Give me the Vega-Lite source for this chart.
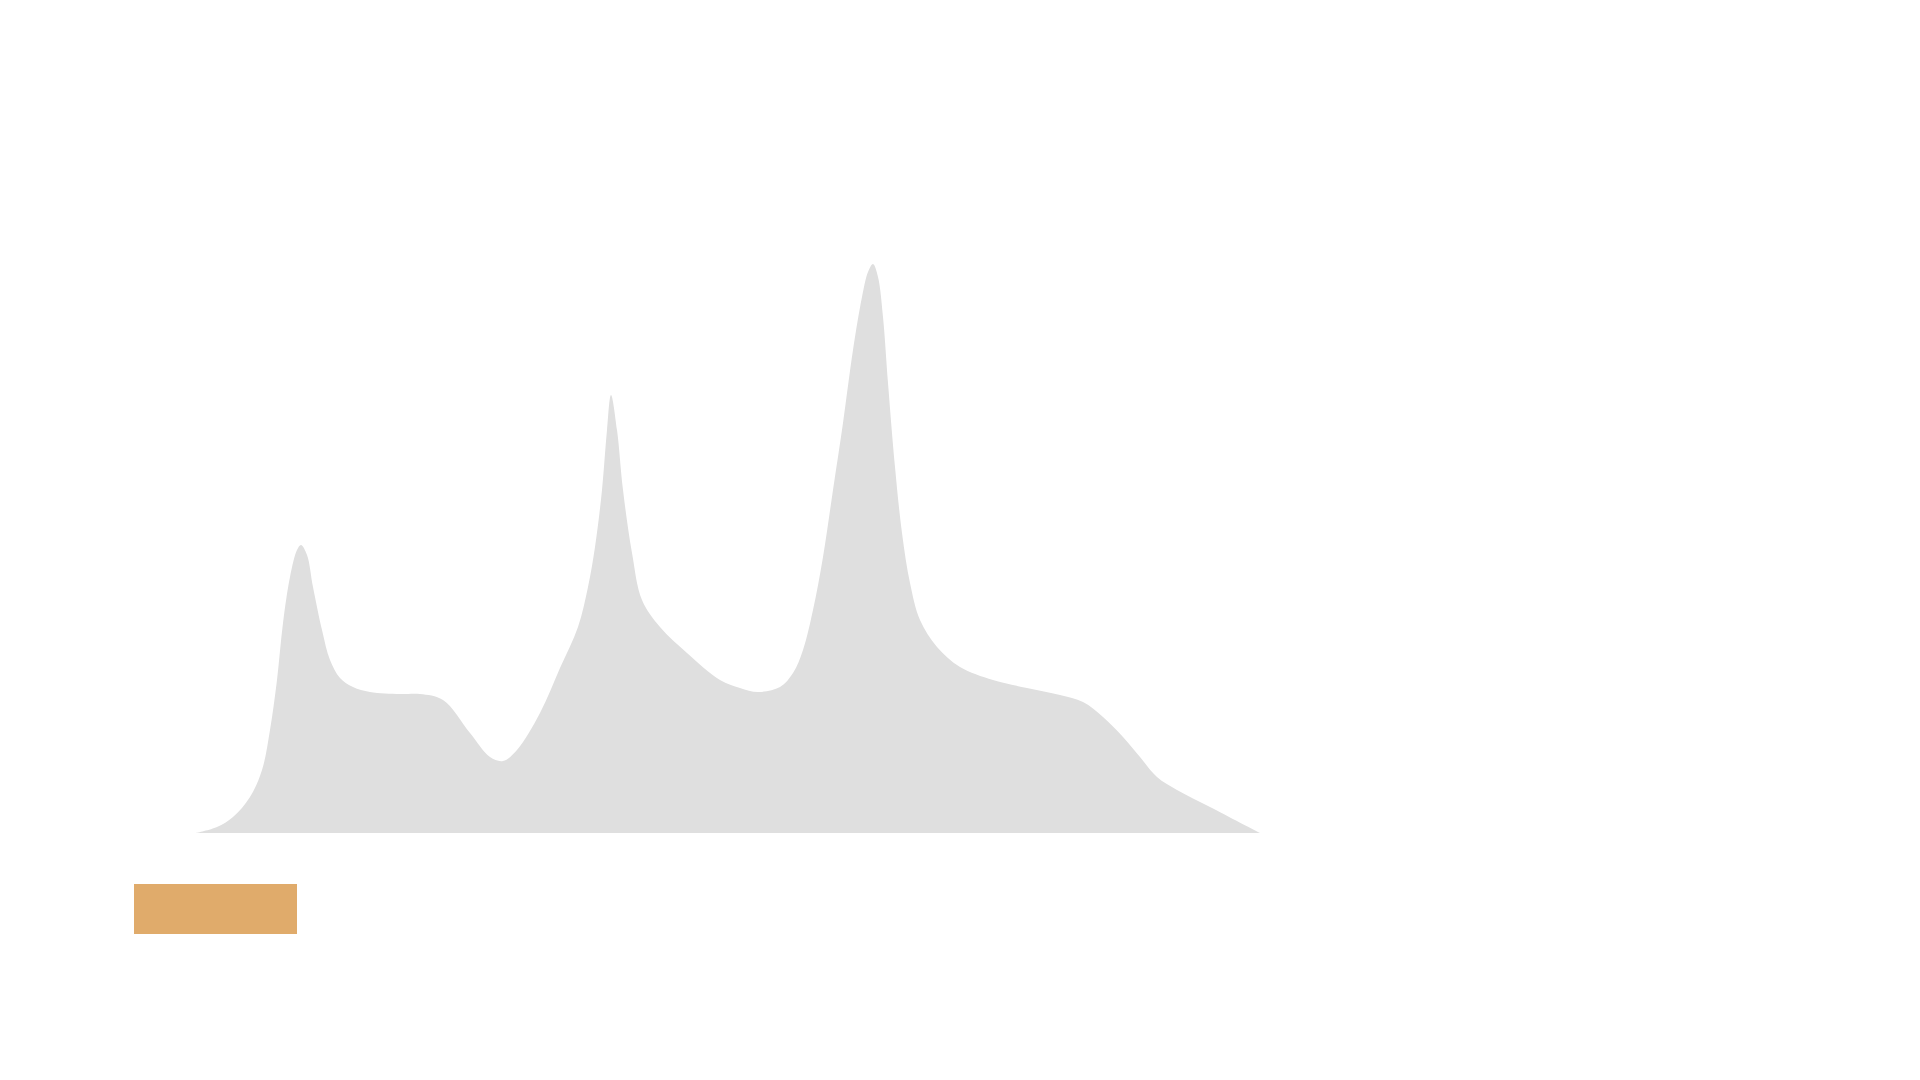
{
  "$schema": "https://vega.github.io/schema/vega-lite/v6.json",
  "width": 1920,
  "height": 1080,
  "autosize": {"type": "fit", "contains": "padding"},
  "padding": 0,
  "background": "white",
  "config": {"view": {"stroke": null}},
  "datasets": {
    "density": [
      {"value": 0.0, "density": 0.0},
      {"value": 2.1, "density": 0.6},
      {"value": 3.7, "density": 1.6},
      {"value": 5.4, "density": 3.6},
      {"value": 6.6, "density": 6.3},
      {"value": 7.4, "density": 10.3},
      {"value": 8.1, "density": 15.3},
      {"value": 8.7, "density": 21.0},
      {"value": 9.4, "density": 25.6},
      {"value": 10.1, "density": 28.3},
      {"value": 10.5, "density": 28.8},
      {"value": 11.1, "density": 27.8},
      {"value": 11.7, "density": 24.6},
      {"value": 12.6, "density": 20.3},
      {"value": 13.4, "density": 17.3},
      {"value": 14.4, "density": 15.5},
      {"value": 15.7, "density": 14.6},
      {"value": 17.4, "density": 14.1},
      {"value": 20.4, "density": 13.9},
      {"value": 22.4, "density": 13.9},
      {"value": 24.7, "density": 13.3},
      {"value": 27.4, "density": 10.0},
      {"value": 29.4, "density": 7.6},
      {"value": 30.7, "density": 7.2},
      {"value": 32.1, "density": 8.3},
      {"value": 34.4, "density": 12.0},
      {"value": 36.4, "density": 16.5},
      {"value": 38.2, "density": 20.6},
      {"value": 39.2, "density": 24.6},
      {"value": 39.9, "density": 28.6},
      {"value": 40.6, "density": 34.3},
      {"value": 41.1, "density": 40.3},
      {"value": 41.5, "density": 43.8},
      {"value": 42.1, "density": 40.3},
      {"value": 42.7, "density": 34.3},
      {"value": 43.6, "density": 28.0},
      {"value": 44.6, "density": 23.3},
      {"value": 46.4, "density": 20.6},
      {"value": 49.1, "density": 18.0},
      {"value": 52.4, "density": 15.3},
      {"value": 54.4, "density": 14.5},
      {"value": 56.2, "density": 14.1},
      {"value": 58.4, "density": 14.6},
      {"value": 59.7, "density": 16.0},
      {"value": 60.7, "density": 18.3},
      {"value": 61.7, "density": 22.3},
      {"value": 62.7, "density": 27.6},
      {"value": 63.7, "density": 34.3},
      {"value": 64.7, "density": 41.0},
      {"value": 65.7, "density": 48.3},
      {"value": 66.6, "density": 53.6},
      {"value": 67.2, "density": 56.1},
      {"value": 67.7, "density": 56.9},
      {"value": 68.2, "density": 55.6},
      {"value": 68.7, "density": 51.6},
      {"value": 69.2, "density": 45.0},
      {"value": 69.9, "density": 36.6},
      {"value": 70.6, "density": 30.0},
      {"value": 71.4, "density": 25.0},
      {"value": 72.4, "density": 21.3},
      {"value": 74.1, "density": 18.6},
      {"value": 76.4, "density": 16.6},
      {"value": 79.7, "density": 15.3},
      {"value": 83.1, "density": 14.5},
      {"value": 86.4, "density": 13.8},
      {"value": 88.7, "density": 13.1},
      {"value": 90.7, "density": 11.6},
      {"value": 92.7, "density": 9.6},
      {"value": 94.4, "density": 7.6},
      {"value": 96.1, "density": 5.6},
      {"value": 98.1, "density": 4.3},
      {"value": 101.4, "density": 2.6},
      {"value": 106.4, "density": 0.0}
    ],
    "band": [
      {"start": -6.2, "end": 10.1, "low": -10.1, "high": -5.1}
    ]
  },
  "layer": [
    {
      "data": {"name": "density"},
      "mark": {"type": "area", "interpolate": "catmull-rom", "color": "#dfdfdf"},
      "encoding": {
        "x": {
          "field": "value",
          "type": "quantitative",
          "axis": null,
          "scale": {"domain": [-19.6, 172.4], "nice": false, "zero": false}
        },
        "y": {
          "field": "density",
          "type": "quantitative",
          "axis": null,
          "scale": {"domain": [-24.7, 83.3], "nice": false, "zero": false}
        }
      }
    },
    {
      "data": {"name": "band"},
      "mark": {"type": "rect", "color": "#e0ab6b"},
      "encoding": {
        "x": {"field": "start", "type": "quantitative"},
        "x2": {"field": "end"},
        "y": {"field": "high", "type": "quantitative"},
        "y2": {"field": "low"}
      }
    }
  ]
}
